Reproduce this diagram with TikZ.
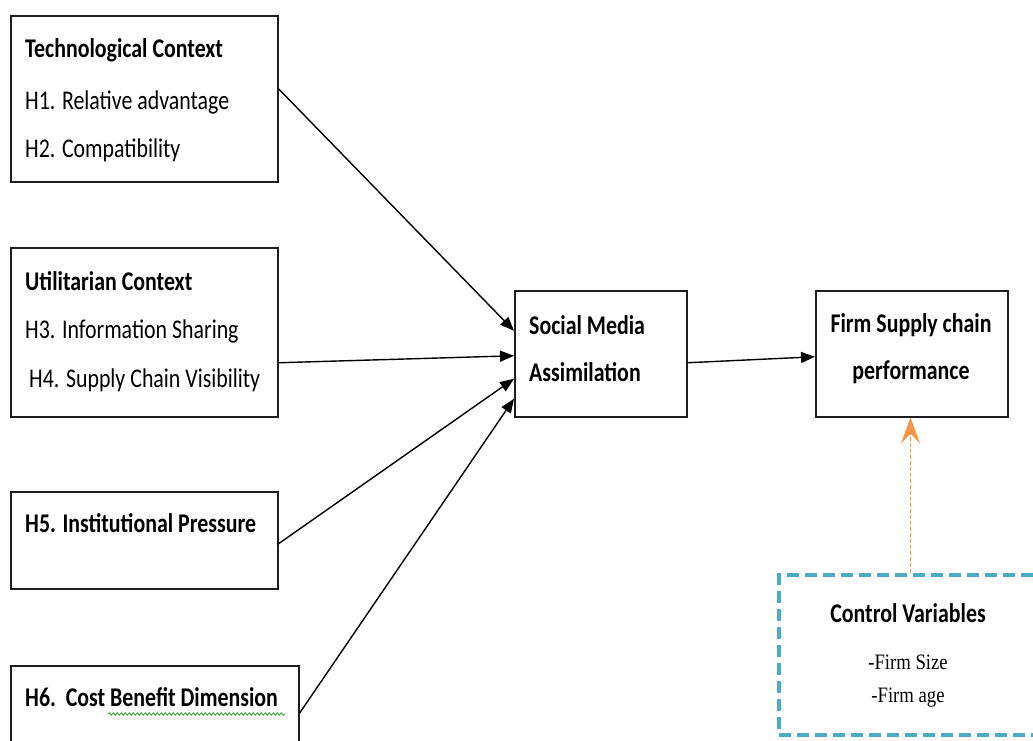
\documentclass[tikz,border=0pt]{standalone}
\usepackage{fontspec}
\setmainfont{Carlito}[FakeStretch=0.81]
\newfontfamily\serifcv{Liberation Serif}[FakeStretch=0.85]
\usetikzlibrary{arrows.meta,decorations.pathmorphing}
\definecolor{boxline}{RGB}{30,30,30}
\definecolor{cvteal}{RGB}{75,172,198}
\definecolor{cvorange}{RGB}{247,150,70}
\definecolor{spellgreen}{RGB}{60,170,60}
\tikzset{
  frame/.style={draw=boxline,line width=1.5pt,rectangle,anchor=north west,inner sep=0pt},
  lbl/.style={anchor=west,inner sep=0pt,font=\fontsize{27}{32}\selectfont},
  blbl/.style={lbl,font=\fontsize{27}{32}\selectfont\bfseries},
  clbl/.style={anchor=center,inner sep=0pt,font=\fontsize{27}{32}\selectfont\bfseries},
  slbl/.style={anchor=center,inner sep=0pt,font=\fontsize{22}{26}\selectfont\serifcv},
  link/.style={draw=black,line width=1.4pt,-{Triangle[length=14pt,width=11pt]}},
  ctrllink/.style={draw=cvorange,line width=1.3pt,dash pattern=on 4pt off 2pt,-{Stealth[length=26pt,width=19pt,inset=10pt]}},
  ctrlbox/.style={draw=cvteal,line width=4pt,dash pattern=on 12pt off 6pt,rectangle,anchor=north west,inner sep=0pt}
}
\begin{document}
\begin{tikzpicture}[x=1pt,y=-1pt]
\useasboundingbox (0,0) rectangle (1033,740);
\fill[white] (0,0) rectangle (1033,740);
% boxes
\node[frame,minimum width=267pt,minimum height=166pt] (tech) at (10,15) {};
\node[frame,minimum width=267pt,minimum height=169pt] (util) at (10,247) {};
\node[frame,minimum width=267pt,minimum height=97pt] (inst) at (10,491) {};
\node[frame,minimum width=288pt,minimum height=95pt] (cost) at (10,665) {};
\node[frame,minimum width=172pt,minimum height=126pt] (sma) at (514,290) {};
\node[frame,minimum width=192pt,minimum height=126pt] (firm) at (815,290) {};
\node[ctrlbox,minimum width=263pt,minimum height=160pt] (ctrl) at (777,573) {};
% texts
\node[blbl] (t1) at (25,50) {Technological Context};
\node[lbl] (t2) at (25,102) {H1. Relative advantage};
\node[lbl] (t3) at (25,150) {H2. Compatibility};
\node[blbl] (u1) at (25,281) {Utilitarian Context};
\node[lbl] (u2) at (25,331) {H3. Information Sharing};
\node[lbl] (u3) at (29,380) {H4. Supply Chain Visibility};
\node[blbl] (i1) at (25,523) {H5. Institutional Pressure};
\node[blbl] (c1) at (25,697) {H6.\ \ Cost Benefit\ Dimension};
\node[blbl] (s1) at (529,325) {Social Media};
\node[blbl] (s2) at (529,372) {Assimilation};
\node[clbl] (f1) at (911,325) {Firm Supply chain};
\node[clbl] (f2) at (911,372) {performance};
\node[clbl] (v1) at (908,613) {Control Variables};
\node[slbl] (v2) at (908,662) {-Firm Size};
\node[slbl] (v3) at (908,698) {-Firm age};
% spell-check squiggle
\draw[spellgreen,line width=0.9pt,decorate,decoration={snake,amplitude=1.2pt,segment length=4pt}] (108,714) -- (285,714);
% connectors
\draw[link] ([yshift=10pt]tech.east) -- ([yshift=23pt]sma.west);
\draw[link] ([yshift=-30.5pt]util.east) -- ([yshift=-2pt]sma.west);
\draw[link] ([yshift=-3.5pt]inst.east) -- ([yshift=-25pt]sma.west);
\draw[link] ([yshift=0pt]cost.east) -- ([yshift=-45pt]sma.west);
\draw[link] ([yshift=-9pt]sma.east) -- ([yshift=-3pt]firm.west);
\draw[ctrllink] (ctrl.north) -- (ctrl.north |- firm.south);
\end{tikzpicture}
\end{document}
